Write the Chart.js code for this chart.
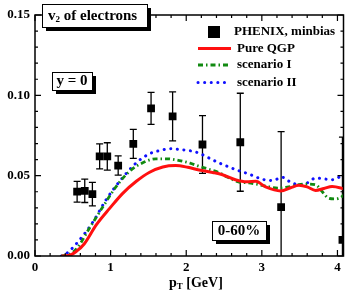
<!DOCTYPE html>
<html lang="en">
<head>
<meta charset="UTF-8">
<title>v2 of electrons</title>
<script src="https://cdn.jsdelivr.net/npm/chart.js"></script>
<style>
  body { margin: 0; background: #fff; }
  #wrap { width: 349px; height: 300px; }
</style>
</head>
<body>
<div id="wrap"><canvas id="v2Chart" width="349" height="300"></canvas></div>
<script>
const FONT = "'Liberation Serif', 'Times New Roman', serif";

// PHENIX minbias data
const phenixPt  = [0.557, 0.658, 0.759, 0.855, 0.956, 1.10, 1.30, 1.535, 1.82, 2.215, 2.715, 3.255, 4.066];
const phenixV2  = [0.040, 0.0406, 0.0385, 0.062, 0.062, 0.0563, 0.0698, 0.0919, 0.0869, 0.0694, 0.0708, 0.0304, 0.010];
const phenixErr = [0.0065, 0.0073, 0.0073, 0.0078, 0.0085, 0.006, 0.009, 0.010, 0.0153, 0.018, 0.0305, 0.047, 0.064];

// Pure QGP
const qgpPt = [0.35, 0.45, 0.55, 0.65, 0.81, 0.99, 1.16, 1.34, 1.51, 1.69, 1.86, 2.02, 2.17, 2.35, 2.48, 2.65, 2.80, 2.92, 3.05, 3.25, 3.38, 3.49, 3.60, 3.71, 3.82, 3.93, 4.10];
const qgpV2 = [0, 0.0003, 0.003, 0.0075, 0.0194, 0.0298, 0.039, 0.0465, 0.052, 0.0554, 0.0563, 0.0552, 0.0535, 0.052, 0.0506, 0.0475, 0.0462, 0.0465, 0.043, 0.0405, 0.0425, 0.044, 0.043, 0.0408, 0.042, 0.0433, 0.0417];

// scenario I
const scen1Pt = [0.35, 0.45, 0.55, 0.72, 0.90, 1.075, 1.25, 1.425, 1.60, 1.75, 1.91, 2.05, 2.17, 2.30, 2.43, 2.55, 2.70, 2.83, 2.96, 3.10, 3.22, 3.35, 3.49, 3.60, 3.71, 3.80, 3.88, 3.97, 4.06, 4.10];
const scen1V2 = [0, 0.001, 0.0045, 0.0173, 0.0308, 0.0433, 0.0527, 0.058, 0.0605, 0.0605, 0.0594, 0.0578, 0.0558, 0.054, 0.052, 0.049, 0.046, 0.0455, 0.0444, 0.043, 0.0423, 0.043, 0.0444, 0.0448, 0.0444, 0.040, 0.036, 0.0355, 0.037, 0.039];

// scenario II
const scen2Pt = [0.35, 0.42, 0.59, 0.77, 0.94, 1.12, 1.34, 1.51, 1.64, 1.80, 1.91, 2.05, 2.17, 2.30, 2.43, 2.56, 2.70, 2.83, 2.96, 3.10, 3.18, 3.27, 3.36, 3.49, 3.60, 3.71, 3.82, 3.93, 4.08];
const scen2V2 = [0, 0.0017, 0.010, 0.0215, 0.035, 0.0465, 0.058, 0.0635, 0.0655, 0.0668, 0.0663, 0.0655, 0.064, 0.061, 0.058, 0.0555, 0.053, 0.051, 0.0485, 0.047, 0.0475, 0.049, 0.0465, 0.0444, 0.0455, 0.0485, 0.048, 0.0475, 0.0506];

const xTicks = [0, 1, 2, 3, 4];
const yTicks = [0, 0.05, 0.10, 0.15];

const toPts = (xs, ys) => xs.map((x, i) => ({ x: x, y: ys[i] }));

const RED = "#ff1010", GREEN = "#118a11", BLUE = "#1010ff";
const GREEN_DASH = [5, 3, 1.5, 3];
const BLUE_DASH = [0.1, 6.5];

// error bars under the markers
const errorBars = {
    id: "errorBars",
    beforeDatasetsDraw(chart) {
        const { ctx, chartArea: a, scales: { x, y } } = chart;
        ctx.save();
        ctx.beginPath();
        ctx.rect(a.left, a.top, a.right - a.left, a.bottom - a.top);
        ctx.clip();
        ctx.strokeStyle = "#000";
        ctx.lineWidth = 1.3;
        phenixPt.forEach((pt, i) => {
            const px = x.getPixelForValue(pt);
            const top = y.getPixelForValue(phenixV2[i] + phenixErr[i]);
            const bot = y.getPixelForValue(phenixV2[i] - phenixErr[i]);
            ctx.beginPath();
            ctx.moveTo(px, top); ctx.lineTo(px, bot);
            ctx.moveTo(px - 3.5, top); ctx.lineTo(px + 3.5, top);
            ctx.moveTo(px - 3.5, bot); ctx.lineTo(px + 3.5, bot);
            ctx.stroke();
        });
        ctx.restore();
    }
};

function labelBox(ctx, x, y, w, h) {
    ctx.fillStyle = "#000";
    ctx.fillRect(x + 4, y + 4, w, h);
    ctx.fillStyle = "#fff";
    ctx.fillRect(x, y, w, h);
    ctx.strokeStyle = "#000";
    ctx.lineWidth = 1;
    ctx.strokeRect(x + 0.5, y + 0.5, w, h);
}

// frame, inner ticks, legend and text boxes
const decor = {
    id: "decor",
    afterDraw(chart) {
        const { ctx, chartArea: a, scales: { x, y } } = chart;
        ctx.save();
        ctx.strokeStyle = "#000";
        ctx.lineWidth = 1.5;
        ctx.strokeRect(a.left, a.top, a.right - a.left, a.bottom - a.top);

        ctx.lineWidth = 1.2;
        ctx.beginPath();
        for (let k = 0; k <= 20; k++) {
            const v = k * 0.2;
            const len = k % 5 === 0 ? 6 : 3;
            const px = x.getPixelForValue(v);
            ctx.moveTo(px, a.bottom); ctx.lineTo(px, a.bottom - len);
            ctx.moveTo(px, a.top); ctx.lineTo(px, a.top + len);
        }
        for (let k = 0; k <= 15; k++) {
            const v = k * 0.01;
            const len = k % 5 === 0 ? 6 : 3;
            const py = y.getPixelForValue(v);
            ctx.moveTo(a.left, py); ctx.lineTo(a.left + len, py);
            ctx.moveTo(a.right, py); ctx.lineTo(a.right - len, py);
        }
        ctx.stroke();

        // legend
        ctx.font = "bold 13px " + FONT;
        ctx.textBaseline = "middle";
        ctx.textAlign = "left";
        ctx.fillStyle = "#000";
        ctx.fillRect(208, 26, 12, 12);
        ctx.fillText("PHENIX, minbias", 234, 32);
        const rows = [
            { label: "Pure QGP", color: RED, dash: [], w: 3, cap: "butt", y: 48.5 },
            { label: "scenario I", color: GREEN, dash: GREEN_DASH, w: 2.8, cap: "butt", y: 65 },
            { label: "scenario II", color: BLUE, dash: BLUE_DASH, w: 3, cap: "round", y: 82.5 }
        ];
        rows.forEach(r => {
            ctx.strokeStyle = r.color;
            ctx.lineWidth = r.w;
            ctx.lineCap = r.cap;
            ctx.setLineDash(r.dash);
            ctx.beginPath();
            ctx.moveTo(198, r.y); ctx.lineTo(231, r.y);
            ctx.stroke();
            ctx.setLineDash([]);
            ctx.fillStyle = "#000";
            ctx.fillText(r.label, 237, r.y);
        });
        ctx.lineCap = "butt";

        // annotation boxes
        labelBox(ctx, 42, 4, 105, 23);
        ctx.fillStyle = "#000";
        ctx.font = "bold 15px " + FONT;
        ctx.fillText("v", 48, 16);
        let w = ctx.measureText("v").width;
        ctx.font = "bold 9px " + FONT;
        ctx.fillText("2", 48 + w, 20);
        const w2 = ctx.measureText("2").width;
        ctx.font = "bold 15px " + FONT;
        ctx.fillText(" of electrons", 48 + w + w2, 16);

        labelBox(ctx, 52, 72, 40, 18);
        ctx.fillStyle = "#000";
        ctx.textAlign = "center";
        ctx.fillText("y = 0", 72, 81.5);

        labelBox(ctx, 212, 221, 54, 19);
        ctx.fillStyle = "#000";
        ctx.fillText("0-60%", 239, 231);

        // x title
        ctx.textAlign = "left";
        ctx.font = "bold 14px " + FONT;
        ctx.fillText("p", 169, 283);
        w = ctx.measureText("p").width;
        ctx.font = "bold 9px " + FONT;
        ctx.fillText("T", 169 + w, 287);
        const wt = ctx.measureText("T").width;
        ctx.font = "bold 14px " + FONT;
        ctx.fillText(" [GeV]", 169 + w + wt, 283);
        ctx.restore();
    }
};

new Chart(document.getElementById("v2Chart"), {
    type: "scatter",
    data: {
        datasets: [
            {
                label: "PHENIX, minbias",
                data: toPts(phenixPt, phenixV2),
                pointStyle: "rect",
                pointRadius: 5.5,
                backgroundColor: "#000",
                borderWidth: 0
            },
            {
                label: "Pure QGP",
                data: toPts(qgpPt, qgpV2),
                showLine: true,
                pointRadius: 0,
                borderColor: RED,
                borderWidth: 3,
                cubicInterpolationMode: "monotone"
            },
            {
                label: "scenario I",
                data: toPts(scen1Pt, scen1V2),
                showLine: true,
                pointRadius: 0,
                borderColor: GREEN,
                borderWidth: 2.8,
                borderDash: GREEN_DASH,
                cubicInterpolationMode: "monotone"
            },
            {
                label: "scenario II",
                data: toPts(scen2Pt, scen2V2),
                showLine: true,
                pointRadius: 0,
                borderColor: BLUE,
                borderWidth: 3,
                borderDash: BLUE_DASH,
                borderCapStyle: "round",
                cubicInterpolationMode: "monotone"
            }
        ]
    },
    options: {
        responsive: false,
        animation: false,
        layout: { padding: { top: 15, right: 2, left: 0, bottom: 0 } },
        plugins: { legend: { display: false }, tooltip: { enabled: false } },
        scales: {
            x: {
                type: "linear",
                min: 0,
                max: 4.08,
                afterBuildTicks: s => { s.ticks = xTicks.map(v => ({ value: v })); },
                afterFit: s => { s.height = 44; },
                grid: { display: false, drawTicks: false },
                border: { display: false },
                ticks: {
                    padding: 4,
                    color: "#000",
                    font: { family: FONT, size: 13, weight: "bold" }
                }
            },
            y: {
                type: "linear",
                min: 0,
                max: 0.15,
                afterBuildTicks: s => { s.ticks = yTicks.map(v => ({ value: v })); },
                afterFit: s => { s.width = 35; },
                grid: { display: false, drawTicks: false },
                border: { display: false },
                ticks: {
                    padding: 5,
                    color: "#000",
                    font: { family: FONT, size: 13, weight: "bold" },
                    callback: v => v.toFixed(2)
                }
            }
        }
    },
    plugins: [errorBars, decor]
});
</script>
</body>
</html>
